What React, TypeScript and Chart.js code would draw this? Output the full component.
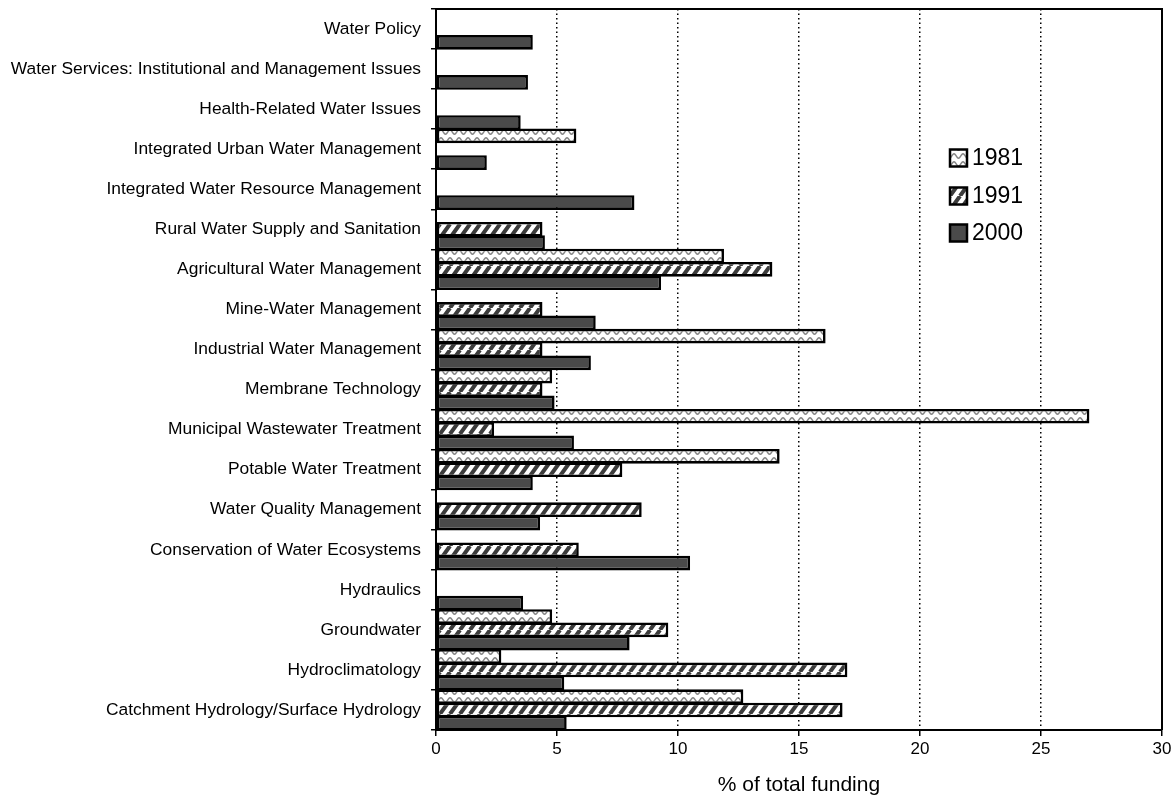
import React, { useEffect, useRef } from 'react';
import { Chart, registerables } from 'chart.js';
Chart.register(...registerables);

const categories = [
  'Water Policy',
  'Water Services: Institutional and Management Issues',
  'Health-Related Water Issues',
  'Integrated Urban Water Management',
  'Integrated Water Resource Management',
  'Rural Water Supply and Sanitation',
  'Agricultural Water Management',
  'Mine-Water Management',
  'Industrial Water Management',
  'Membrane Technology',
  'Municipal Wastewater Treatment',
  'Potable Water Treatment',
  'Water Quality Management',
  'Conservation of Water Ecosystems',
  'Hydraulics',
  'Groundwater',
  'Hydroclimatology',
  'Catchment Hydrology/Surface Hydrology',
];

const seriesLabels = ['1981', '1991', '2000'];

const values1981 = [null, null, null, 5.8, null, null, 11.9, null, 16.1, 4.8, 27.0, 14.2, null, null, null, 4.8, 2.7, 12.7];
const values1991 = [null, null, null, null, null, 4.4, 13.9, 4.4, 4.4, 4.4, 2.4, 7.7, 8.5, 5.9, null, 9.6, 17.0, 16.8];
const values2000 = [4.0, 3.8, 3.5, 2.1, 8.2, 4.5, 9.3, 6.6, 6.4, 4.9, 5.7, 4.0, 4.3, 10.5, 3.6, 8.0, 5.3, 5.4];

const xMin = 0;
const xMax = 30;
const xStep = 5;
const xTitle = '% of total funding';

const FONT = '"Liberation Sans", Arial, Helvetica, sans-serif';

function makeWave(ctx: CanvasRenderingContext2D): CanvasPattern | string {
  const c = document.createElement('canvas');
  c.width = 9;
  c.height = 8;
  const g = c.getContext('2d')!;
  g.fillStyle = '#ffffff';
  g.fillRect(0, 0, 9, 8);
  g.strokeStyle = '#858585';
  g.lineWidth = 1.5;
  g.beginPath();
  for (let x = -1; x <= 10; x += 0.5) {
    const y = 4 - 2.2 * Math.cos((2 * Math.PI * x) / 9);
    if (x === -1) g.moveTo(x, y);
    else g.lineTo(x, y);
  }
  g.stroke();
  return ctx.createPattern(c, 'repeat') || '#ccc';
}

function makeStripes(ctx: CanvasRenderingContext2D): CanvasPattern | string {
  const w = 10;
  const h = 14;
  const c = document.createElement('canvas');
  c.width = w;
  c.height = h;
  const g = c.getContext('2d')!;
  g.fillStyle = '#ffffff';
  g.fillRect(0, 0, w, h);
  g.strokeStyle = '#3c3c3c';
  g.lineWidth = 4;
  g.beginPath();
  for (let k = 0; k <= 2; k++) {
    g.moveTo(w * k, 0);
    g.lineTo(w * k - w, h);
  }
  g.stroke();
  return ctx.createPattern(c, 'repeat') || '#888';
}

export default function App() {
  const canvasRef = useRef<HTMLCanvasElement | null>(null);

  useEffect(() => {
    const canvas = canvasRef.current;
    if (!canvas) return;
    const ctx = canvas.getContext('2d')!;
    const fills = [makeWave(ctx), makeStripes(ctx), '#4a4a4a'];

    const framePlugin = {
      id: 'frameLegend',
      afterDatasetsDraw(chart: any) {
        const c = chart.ctx as CanvasRenderingContext2D;
        const a = chart.chartArea;
        c.save();
        c.strokeStyle = '#000';
        c.lineWidth = 2;
        c.beginPath();
        c.moveTo(a.left, a.top);
        c.lineTo(a.right, a.top);
        c.lineTo(a.right, a.bottom);
        c.stroke();

        // legend
        const bx = 950;
        const centers = [158, 196, 233];
        const size = 17;
        c.font = `23px ${FONT}`;
        c.textBaseline = 'middle';
        c.textAlign = 'left';
        seriesLabels.forEach((lab, i) => {
          const cy = centers[i];
          c.fillStyle = fills[i] as any;
          c.fillRect(bx, cy - size / 2, size, size);
          c.lineWidth = 2.5;
          c.strokeStyle = '#000';
          c.strokeRect(bx, cy - size / 2, size, size);
          c.fillStyle = '#000';
          c.fillText(lab, bx + size + 5, cy + 1);
        });
        c.restore();
      },
    };

    const chart = new Chart(canvas, {
      type: 'bar',
      data: {
        labels: categories,
        datasets: [values1981, values1991, values2000].map((vals, i) => ({
          label: seriesLabels[i],
          data: vals as any,
          backgroundColor: fills[i] as any,
          borderColor: '#000',
          borderWidth: 2.6,
          borderSkipped: false,
          categoryPercentage: 1,
          barPercentage: 1.1,
        })),
      },
      options: {
        indexAxis: 'y',
        responsive: false,
        animation: false,
        devicePixelRatio: 1,
        layout: { padding: { top: 9, right: 14, left: 0, bottom: 0 } },
        plugins: {
          legend: { display: false },
          tooltip: { enabled: false },
        },
        scales: {
          x: {
            type: 'linear',
            min: xMin,
            max: xMax,
            ticks: {
              stepSize: xStep,
              color: '#000',
              font: { family: FONT, size: 17 },
              padding: 3,
            },
            grid: {
              color: '#000',
              lineWidth: 1.5,
              drawOnChartArea: true,
              drawTicks: true,
              tickLength: 6,
              tickColor: '#000',
              tickWidth: 1.5,
            },
            border: { display: true, color: '#000', width: 2, dash: [1.5, 3] },
            title: {
              display: true,
              text: xTitle,
              color: '#000',
              font: { family: FONT, size: 21 },
              padding: { top: 4, bottom: 0 },
            },
            afterFit(scale: any) {
              scale.height = 68;
              scale.paddingLeft = 0;
              scale.paddingRight = 0;
            },
          },
          y: {
            type: 'category',
            ticks: {
              autoSkip: false,
              color: '#000',
              font: { family: FONT, size: 17.4 },
              padding: 10,
            },
            grid: {
              display: true,
              offset: true,
              drawOnChartArea: false,
              drawTicks: true,
              tickLength: 5,
              color: '#000',
              lineWidth: 1.5,
            },
            border: { display: true, color: '#000', width: 2 },
            afterFit(scale: any) {
              scale.width = 436;
              scale.paddingTop = 0;
              scale.paddingBottom = 0;
            },
          },
        },
      },
      plugins: [framePlugin],
    } as any);

    return () => chart.destroy();
  }, []);

  return (
    <div style={{ position: 'absolute', left: 0, top: 0, width: 1176, height: 798, background: '#fff' }}>
      <canvas ref={canvasRef} width={1176} height={798} />
    </div>
  );
}
